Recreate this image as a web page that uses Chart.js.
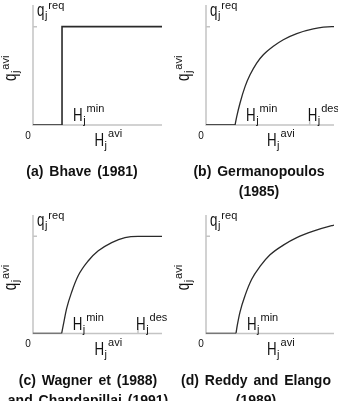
<!DOCTYPE html>
<html>
<head>
<meta charset="utf-8">
<script src="https://cdn.jsdelivr.net/npm/chart.js@4.4.1/dist/chart.umd.min.js"></script>
<style>
  html, body { margin: 0; padding: 0; background: #fff; }
  #fig { position: relative; width: 338px; height: 401px; overflow: hidden; }
  .panel { position: absolute; width: 169px; height: 201px; }
  .title {
    position: absolute; width: 200px; text-align: center;
    font: bold 14px "Liberation Sans", Arial, sans-serif;
    line-height: 20px; word-spacing: 2px; color: #111;
  }
</style>
</head>
<body>
<div id="fig">
  <div class="panel" style="left:0;top:0"><canvas id="chartA" width="169" height="201"></canvas></div>
  <div class="panel" style="left:169px;top:0"><canvas id="chartB" width="169" height="201"></canvas></div>
  <div class="panel" style="left:0;top:200px"><canvas id="chartC" width="169" height="201"></canvas></div>
  <div class="panel" style="left:169px;top:200px"><canvas id="chartD" width="169" height="201"></canvas></div>
  <div class="title" style="left:-18px;top:161px">(a) Bhave (1981)</div>
  <div class="title" style="left:159px;top:161px">(b) Germanopoulos<br>(1985)</div>
  <div class="title" style="left:-12px;top:370px">(c) Wagner et (1988)<br>and Chandapillai (1991)</div>
  <div class="title" style="left:156px;top:370px">(d) Reddy and Elango<br>(1989)</div>
</div>
<script>
// H_j^avi (normalised) and q_j^avi (q_j^req = 1)
// zero part from H = 0 to H_min, then the rising part from H_min on
const bhaveH = [0, 0.225, 0.225, 1];
const bhaveQ = [0, 0, 1, 1];

const germH = [0.227, 0.240, 0.266, 0.305, 0.344, 0.396, 0.448, 0.526, 0.604, 0.709, 0.838, 0.982, 1];
const germQ = [0, 0.085, 0.224, 0.39, 0.51, 0.63, 0.714, 0.80, 0.867, 0.929, 0.977, 1.0, 1.0];

const wagH = [0.222, 0.235, 0.261, 0.300, 0.351, 0.429, 0.506, 0.610, 0.713, 0.814, 1];
const wagQ = [0, 0.089, 0.259, 0.428, 0.597, 0.749, 0.851, 0.936, 0.987, 1.0, 1.0];

const reddyH = [0.234, 0.245, 0.266, 0.305, 0.357, 0.422, 0.5, 0.604, 0.709, 0.838, 0.982, 1];
const reddyQ = [0, 0.088, 0.223, 0.39, 0.558, 0.69, 0.81, 0.91, 0.987, 1.053, 1.11, 1.115];

// marked positions on the axes
const hMin = { a: 0.225, b: 0.227, c: 0.222, d: 0.234 };
const hDes = { a: null, b: 0.81, c: 0.814, d: null };
const qReq = 1;

const FONT = '"Liberation Sans", Arial, sans-serif';

// letter with subscript j and a superscript, main letter squeezed like the original
function drawSym(ctx, x, y, main, sub, sup, supDy) {
    ctx.save();
    ctx.fillStyle = '#111';
    ctx.textBaseline = 'alphabetic';
    ctx.textAlign = 'left';
    ctx.font = '18px ' + FONT;
    const sx = 0.74;
    const w = ctx.measureText(main).width * sx;
    ctx.save();
    ctx.translate(x, y);
    ctx.scale(sx, 1);
    ctx.fillText(main, 0, 0);
    ctx.restore();
    ctx.font = '11px ' + FONT;
    ctx.fillText(sub, x + w + 0.5, y + 3);
    const wj = ctx.measureText(sub).width;
    ctx.fillText(sup, x + w + wj + 1.5, y + supDy);
    ctx.restore();
}

const figPlugin = {
    id: 'figLabels',
    beforeDatasetsDraw(chart, args, opts) {
        const { ctx, chartArea: a, scales: { x, y } } = chart;
        ctx.save();
        ctx.strokeStyle = '#c4c4c4';
        ctx.lineWidth = 1.5;
        ctx.beginPath();
        ctx.moveTo(a.left, a.top);
        ctx.lineTo(a.left, a.bottom);
        ctx.lineTo(a.right, a.bottom);
        const yq = y.getPixelForValue(qReq);
        ctx.moveTo(a.left, yq);
        ctx.lineTo(a.left + 4, yq);
        if (opts.hDes != null) {
            const xd = x.getPixelForValue(opts.hDes);
            ctx.moveTo(xd, a.bottom);
            ctx.lineTo(xd, a.bottom - 4);
        }
        ctx.stroke();
        ctx.restore();
    },
    afterDraw(chart, args, opts) {
        const { ctx, chartArea: a, scales: { x } } = chart;
        drawSym(ctx, a.left + 4, a.top + 11, 'q', 'j', 'req', -7);
        drawSym(ctx, x.getPixelForValue(opts.hMin) + 11, a.bottom - 4, 'H', 'j', 'min', -9);
        if (opts.hDes != null) {
            drawSym(ctx, x.getPixelForValue(opts.hDes) - 2, a.bottom - 4, 'H', 'j', 'des', -9);
        }
        drawSym(ctx, (a.left + a.right) / 2 - 3, a.bottom + 21, 'H', 'j', 'avi', -9);

        ctx.save();
        ctx.translate(a.left - 17, (a.top + a.bottom) / 2 + 16);
        ctx.rotate(-Math.PI / 2);
        drawSym(ctx, 0, 0, 'q', 'j', 'avi', -7);
        ctx.restore();

        ctx.save();
        ctx.fillStyle = '#111';
        ctx.font = '10px ' + FONT;
        ctx.textAlign = 'center';
        ctx.textBaseline = 'middle';
        ctx.fillText('0', a.left - 5, a.bottom + 11);
        ctx.restore();
    }
};

function lineSet(points, tension, lw) {
    return {
        data: points,
        borderColor: '#2a2a2a',
        borderWidth: lw,
        pointRadius: 0,
        fill: false,
        tension: tension,
        cubicInterpolationMode: tension ? 'monotone' : 'default'
    };
}

function makePanel(id, hs, qs, key, pad, tension, lw) {
    const ctx = document.getElementById(id).getContext('2d');
    const datasets = [];
    if (hs[0] > 0) {
        // zero supply below H_min
        datasets.push(lineSet([{ x: 0, y: 0 }, { x: hs[0], y: qs[0] }], 0, lw + 0.3));
    }
    datasets.push(lineSet(hs.map((h, i) => ({ x: h, y: qs[i] })), tension, lw));
    return new Chart(ctx, {
        type: 'line',
        data: { datasets: datasets },
        options: {
            responsive: false,
            animation: false,
            events: [],
            layout: { padding: pad },
            scales: {
                x: { type: 'linear', min: 0, max: 1, display: false },
                y: { min: 0, max: 1.22, display: false }
            },
            plugins: {
                legend: { display: false },
                tooltip: { enabled: false },
                figLabels: { hMin: hMin[key], hDes: hDes[key] }
            }
        },
        plugins: [figPlugin]
    });
}

document.addEventListener('DOMContentLoaded', function () {
    makePanel('chartA', bhaveH, bhaveQ, 'a', { left: 33, right: 7, top: 5, bottom: 76 }, 0, 1.6);
    makePanel('chartB', germH, germQ, 'b', { left: 37, right: 4, top: 5, bottom: 76 }, 0.4, 1.3);
    makePanel('chartC', wagH, wagQ, 'c', { left: 33, right: 7, top: 15, bottom: 67.5 }, 0.4, 1.3);
    makePanel('chartD', reddyH, reddyQ, 'd', { left: 37, right: 4, top: 15, bottom: 67.5 }, 0.4, 1.3);
});
</script>
</body>
</html>
